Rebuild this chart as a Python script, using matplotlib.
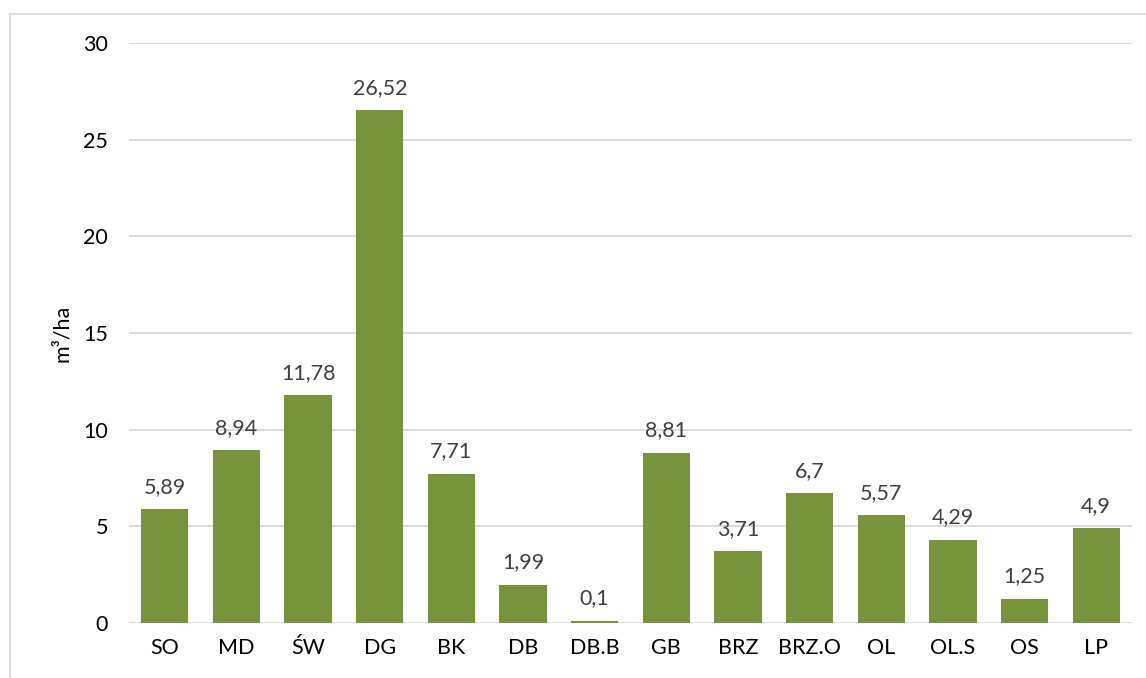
import matplotlib
matplotlib.use("Agg")
import matplotlib.pyplot as plt
from matplotlib.patches import Rectangle

categories = ["SO", "MD", "ŚW", "DG", "BK", "DB", "DB.B", "GB", "BRZ", "BRZ.O", "OL", "OL.S", "OS", "LP"]
values = [5.89, 8.94, 11.78, 26.52, 7.71, 1.99, 0.1, 8.81, 3.71, 6.7, 5.57, 4.29, 1.25, 4.9]
yticks = [0, 5, 10, 15, 20, 25, 30]

plt.rcParams['font.family'] = ['Lato', 'DejaVu Sans']

W, H = 1146, 678
fig = plt.figure(figsize=(W / 100, H / 100), dpi=100)
ax = fig.add_axes([129 / W, 55 / H, (1132 - 129) / W, (623 - 43) / H])

x = range(len(categories))
bars = ax.bar(x, values, width=0.66, color="#77933C", zorder=3)
ax.set_xlim(-0.5, len(categories) - 0.5)
ax.set_ylim(0, 30)
ax.set_yticks(yticks)
ax.set_yticklabels([str(t) for t in yticks])
ax.set_xticks(list(x))
ax.set_xticklabels(categories)
ax.grid(axis="y", color="#D9D9D9", linewidth=1.3, zorder=0)
for s in ["top", "right", "left", "bottom"]:
    ax.spines[s].set_visible(False)
ax.tick_params(axis="both", length=0, labelsize=15.5, colors="#000000")
ax.tick_params(axis="y", pad=15)
ax.tick_params(axis="x", pad=11)

for b, v in zip(bars, values):
    lbl = f"{v:g}".replace(".", ",")
    ax.annotate(lbl, (b.get_x() + b.get_width() / 2, v), xytext=(0, 9),
                textcoords="offset points", ha="center", va="bottom",
                fontsize=15.5, color="#404040")

ax.set_ylabel("m³/ha", fontsize=15.5, color="#000000")
ax.yaxis.set_label_coords((72 - 129) / (1132 - 129), 0.5)

# outer chart border (partially cropped in reference)
fig.patches.append(Rectangle((9.5 / W, -0.1), 1.2, (678 - 13.5) / H + 0.1,
                             transform=fig.transFigure, fill=False,
                             edgecolor="#D9D9D9", linewidth=1.3))

fig.savefig("out.png", dpi=100)
